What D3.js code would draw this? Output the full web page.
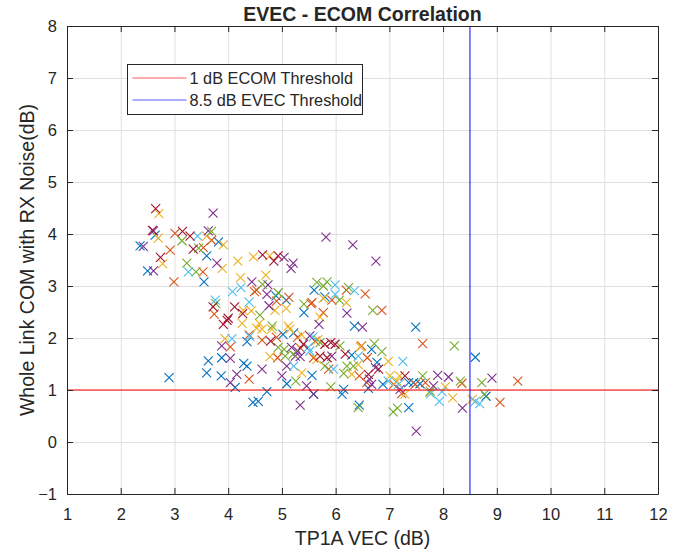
<!DOCTYPE html>
<html>
<head>
<meta charset="utf-8">
<script src="https://cdn.jsdelivr.net/npm/d3@7"></script>
<style>
  body { margin: 0; background: #fff; }
  svg text { font-family: "Liberation Sans", Arial, Helvetica, sans-serif; fill: #262626; }
</style>
</head>
<body>
<div id="chart"></div>
<script>
// tick values
const xTicks = [1, 2, 3, 4, 5, 6, 7, 8, 9, 10, 11, 12];
const yTicks = [-1, 0, 1, 2, 3, 4, 5, 6, 7, 8];

// thresholds
const ecomThreshold = 1;
const evecThreshold = 8.5;

// scatter series, [VEC, COM] pairs
const blueSeries = [[2.64,3.98],[2.36,3.77],[3.60,3.58],[2.50,3.29],[3.55,3.08],[4.89,2.81],[5.08,2.73],[5.41,2.49],[5.60,2.92],[5.80,2.79],[3.63,1.56],[3.60,1.33],[2.90,1.24],[5.02,2.07],[4.35,1.93],[3.88,1.62],[4.29,1.51],[4.35,1.46],[3.87,1.27],[5.09,1.12],[5.56,1.28],[4.13,1.05],[4.72,0.97],[5.59,0.92],[4.46,0.76],[4.56,0.78],[6.35,2.23],[6.30,1.67],[6.67,1.78],[6.77,1.53],[6.88,1.11],[7.36,1.14],[6.15,1.01],[6.12,0.92],[6.61,1.03],[6.44,0.71],[7.36,0.66],[7.49,2.21],[8.60,1.63],[7.45,1.14],[7.57,1.12],[8.80,0.88],[5.22,2.10],[3.82,3.85]];
const orangeSeries = [[3.01,4.01],[2.92,3.69],[3.54,3.74],[3.53,3.27],[2.99,3.08],[3.69,3.88],[4.49,2.89],[4.53,2.92],[5.13,2.78],[4.90,2.71],[5.54,2.66],[3.74,2.46],[6.20,2.92],[6.55,2.85],[5.93,2.73],[5.56,2.68],[5.77,2.49],[6.86,2.53],[4.04,1.83],[4.39,2.06],[4.63,1.96],[4.90,2.01],[4.92,1.62],[4.39,1.21],[5.62,1.94],[6.59,1.62],[6.48,1.85],[6.44,1.27],[5.87,1.40],[6.58,1.14],[7.08,1.11],[7.23,0.93],[7.62,1.89],[7.48,1.11],[7.67,1.14],[9.39,1.17],[9.06,0.76],[5.29,2.01],[5.35,1.80],[5.59,1.62],[8.35,1.13]];
const yellowSeries = [[2.71,4.39],[2.70,3.92],[2.78,3.43],[3.60,3.96],[3.91,3.79],[3.89,3.34],[4.18,3.48],[4.47,3.56],[4.77,3.58],[4.23,3.16],[4.70,3.21],[4.28,2.53],[4.43,2.52],[4.87,2.53],[5.08,2.57],[5.77,2.76],[6.20,2.68],[5.71,2.40],[4.26,2.28],[4.58,2.28],[4.53,2.19],[5.12,2.23],[5.15,2.17],[3.94,1.99],[4.63,2.17],[4.81,2.17],[4.78,1.64],[5.37,1.33],[5.37,2.06],[6.46,1.83],[6.98,1.55],[6.30,1.30],[7.01,1.27],[7.19,1.27],[7.29,0.92],[5.65,1.59],[6.42,1.49],[7.14,1.17],[8.04,1.06],[8.18,0.85],[8.54,0.82],[7.75,0.95],[5.67,1.97]];
const purpleSeries = [[2.61,4.06],[2.42,3.76],[2.61,3.29],[3.72,4.40],[3.63,4.06],[3.79,3.44],[5.04,3.55],[5.21,3.44],[5.17,3.34],[4.44,3.08],[4.74,3.02],[4.72,2.84],[4.76,2.62],[5.82,3.94],[6.32,3.79],[6.75,3.48],[6.21,2.48],[3.88,1.85],[5.18,1.82],[5.25,1.65],[4.04,1.61],[4.63,1.40],[5.09,1.46],[4.16,1.30],[5.00,1.27],[4.04,1.14],[5.46,1.08],[5.34,0.71],[5.69,2.26],[6.50,2.21],[5.52,2.04],[5.93,1.65],[6.63,1.21],[6.67,1.11],[6.74,1.43],[5.59,0.92],[7.20,1.01],[7.50,0.21],[7.90,1.28],[8.10,1.25],[8.91,1.23],[7.82,1.08],[8.36,0.65],[5.29,1.75],[5.34,1.64]];
const greenSeries = [[3.14,3.87],[3.45,3.73],[3.23,3.44],[3.40,3.27],[3.69,4.05],[4.64,3.03],[4.93,2.87],[3.77,2.66],[4.59,2.44],[5.41,2.65],[5.65,3.07],[5.84,3.08],[5.77,3.00],[6.24,2.97],[6.07,2.73],[6.69,2.53],[4.82,2.23],[4.93,1.82],[5.06,1.65],[5.26,1.17],[5.71,1.91],[6.08,1.85],[6.72,1.89],[6.86,1.74],[5.80,1.46],[6.15,1.32],[6.21,1.46],[6.33,1.46],[5.91,1.06],[6.42,0.66],[7.07,0.58],[7.15,0.65],[8.21,1.85],[8.32,1.17],[8.72,1.14],[7.62,1.27],[7.76,0.98],[8.77,0.92],[5.04,1.78],[5.21,1.69]];
const lightBlueSeries = [[3.43,3.96],[3.26,3.27],[4.24,2.97],[4.08,2.89],[3.76,2.73],[4.39,2.69],[5.99,3.02],[6.35,2.91],[5.99,2.84],[4.07,1.99],[5.52,1.75],[5.22,1.46],[6.42,1.65],[5.96,1.40],[7.25,1.55],[6.98,1.17],[7.17,1.11],[7.98,0.97],[7.93,0.78],[8.60,0.78],[8.68,0.74],[7.77,0.93],[5.58,2.02],[5.49,1.82],[4.40,2.03]];
const darkRedSeries = [[2.65,4.49],[2.59,4.07],[3.15,4.05],[3.29,3.96],[3.35,3.71],[2.74,3.55],[4.64,3.60],[4.85,3.48],[4.93,3.58],[4.12,2.60],[3.72,2.60],[4.27,2.47],[4.00,2.38],[3.91,2.26],[3.98,2.34],[4.79,1.94],[5.80,1.88],[5.99,1.88],[5.71,1.65],[6.18,1.69],[6.80,1.40],[6.61,1.30],[7.29,1.27],[5.91,1.91],[5.84,1.62],[5.40,1.88]];

const series = [
  { color: '#0072BD', pts: blueSeries },
  { color: '#D95319', pts: orangeSeries },
  { color: '#EDB120', pts: yellowSeries },
  { color: '#7E2F8E', pts: purpleSeries },
  { color: '#77AC30', pts: greenSeries },
  { color: '#4DBEEE', pts: lightBlueSeries },
  { color: '#A2142F', pts: darkRedSeries }
];

const width = 674;
const height = 553;
const margin = { top: 26, right: 16, bottom: 59, left: 67 };

const svg = d3.select('#chart')
  .append('svg')
  .attr('width', width)
  .attr('height', height);

const x = d3.scaleLinear()
  .domain([1, 12])
  .range([margin.left, width - margin.right]);

const y = d3.scaleLinear()
  .domain([-1, 8])
  .range([height - margin.bottom, margin.top]);

const axisColor = '#262626';
const tickLen = 6;

// grid
svg.append('g')
  .selectAll('line')
  .data(xTicks.slice(1, -1))
  .join('line')
  .attr('x1', d => x(d) + 0.5).attr('x2', d => x(d) + 0.5)
  .attr('y1', margin.top).attr('y2', height - margin.bottom)
  .attr('stroke', '#dfdfdf');

svg.append('g')
  .selectAll('line')
  .data(yTicks.slice(1, -1))
  .join('line')
  .attr('y1', d => Math.round(y(d)) + 0.5).attr('y2', d => Math.round(y(d)) + 0.5)
  .attr('x1', margin.left).attr('x2', width - margin.right)
  .attr('stroke', '#dfdfdf');

// scatter markers (x shape)
const s = 4.5;
series.forEach(sr => {
  svg.append('g')
    .attr('stroke', sr.color)
    .attr('stroke-width', 1.1)
    .selectAll('path')
    .data(sr.pts)
    .join('path')
    .attr('d', d => {
      const cx = x(d[0]), cy = y(d[1]);
      return `M${cx - s},${cy - s}L${cx + s},${cy + s}M${cx - s},${cy + s}L${cx + s},${cy - s}`;
    });
});

// threshold lines
svg.append('line')
  .attr('x1', x(1)).attr('x2', x(12))
  .attr('y1', y(ecomThreshold)).attr('y2', y(ecomThreshold))
  .attr('stroke', '#ff0000').attr('stroke-width', 1);

svg.append('line')
  .attr('x1', x(evecThreshold)).attr('x2', x(evecThreshold))
  .attr('y1', y(8)).attr('y2', y(-1))
  .attr('stroke', '#0000ff').attr('stroke-width', 1);

// axes (box with inward ticks)
const xAxis = svg.append('g')
  .attr('transform', `translate(0,${height - margin.bottom})`)
  .call(d3.axisBottom(x).tickValues(xTicks).tickSize(-tickLen).tickPadding(14).tickSizeOuter(0));
const yAxis = svg.append('g')
  .attr('transform', `translate(${margin.left},0)`)
  .call(d3.axisLeft(y).tickValues(yTicks).tickSize(-tickLen).tickPadding(10).tickSizeOuter(0));
const xTop = svg.append('g')
  .attr('transform', `translate(0,${margin.top})`)
  .call(d3.axisTop(x).tickValues(xTicks).tickSize(-tickLen).tickFormat('').tickSizeOuter(0));
const yRight = svg.append('g')
  .attr('transform', `translate(${width - margin.right},0)`)
  .call(d3.axisRight(y).tickValues(yTicks).tickSize(-tickLen).tickFormat('').tickSizeOuter(0));

[xAxis, yAxis, xTop, yRight].forEach(a => {
  a.selectAll('path').attr('stroke', axisColor);
  a.selectAll('line').attr('stroke', axisColor);
  a.selectAll('text').style('font-size', '16.5px').attr('fill', axisColor);
});

// title and labels
svg.append('text')
  .attr('x', (margin.left + width - margin.right) / 2)
  .attr('y', 21)
  .attr('text-anchor', 'middle')
  .style('font-size', '19.5px')
  .style('font-weight', 'bold')
  .text('EVEC - ECOM Correlation');

svg.append('text')
  .attr('x', (margin.left + width - margin.right) / 2)
  .attr('y', height - 8)
  .attr('text-anchor', 'middle')
  .style('font-size', '19.5px')
  .text('TP1A VEC (dB)');

svg.append('text')
  .attr('transform', 'rotate(-90)')
  .attr('x', -(margin.top + height - margin.bottom) / 2)
  .attr('y', 34)
  .attr('text-anchor', 'middle')
  .style('font-size', '19.5px')
  .text('Whole Link COM with RX Noise(dB)');

// legend
const legendItems = [
  { label: '1 dB ECOM Threshold', color: '#ff0000' },
  { label: '8.5 dB EVEC Threshold', color: '#0000ff' }
];
const legend = svg.append('g').attr('transform', 'translate(127.5,64.5)');
legend.append('rect')
  .attr('width', 235).attr('height', 50)
  .attr('fill', '#fff').attr('stroke', axisColor);
legendItems.forEach((item, i) => {
  const g = legend.append('g').attr('transform', `translate(0,${13.5 + i * 22})`);
  g.append('line')
    .attr('x1', 5).attr('x2', 59)
    .attr('stroke', item.color).attr('stroke-opacity', 0.65);
  g.append('text')
    .attr('x', 62).attr('y', 6)
    .style('font-size', '16.3px')
    .text(item.label);
});
</script>
</body>
</html>
